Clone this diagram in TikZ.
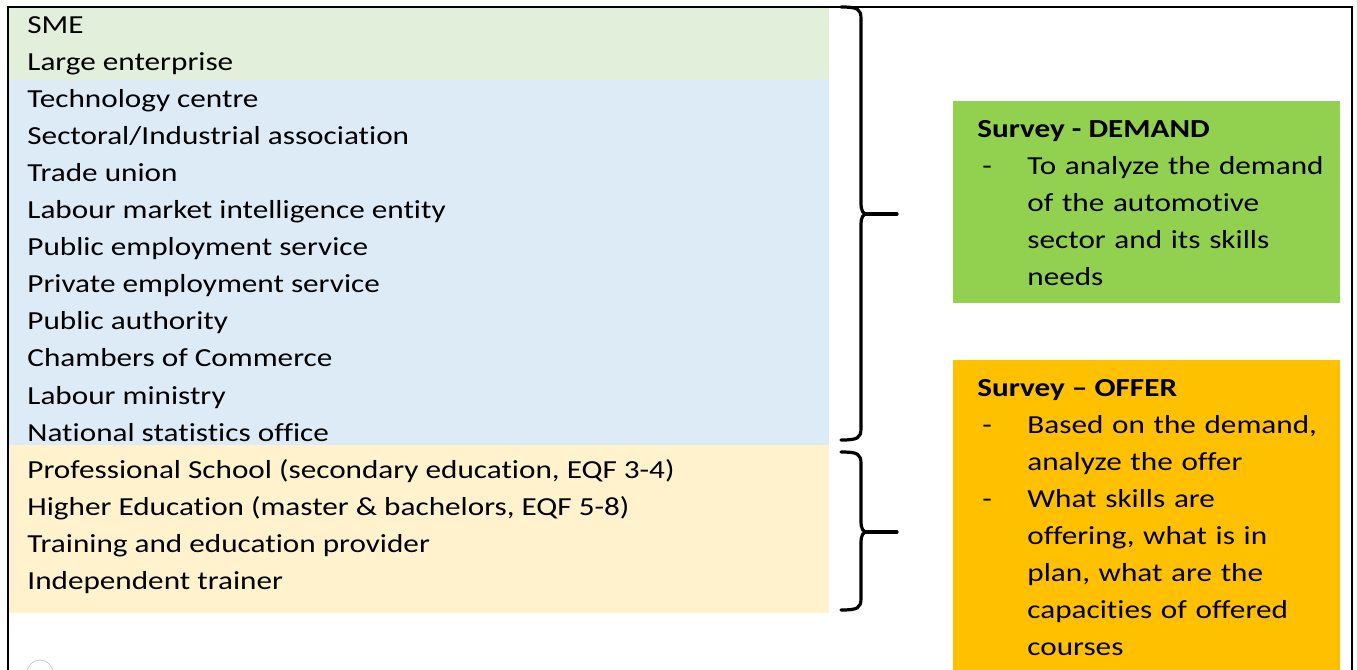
\documentclass[tikz,border=0pt]{standalone}
\usepackage{fontspec}
\setmainfont{Carlito}[FakeStretch=1.2,Ligatures={NoCommon,TeX}]
\usetikzlibrary{arrows.meta}
\definecolor{firmgreen}{HTML}{E2EFDA}
\definecolor{labourblue}{HTML}{DDEBF7}
\definecolor{schoolyellow}{HTML}{FFF2CC}
\definecolor{demandgreen}{HTML}{92D050}
\definecolor{offerorange}{HTML}{FFC000}

\begin{document}
\begin{tikzpicture}[x=0.5pt,y=-0.5pt,
    item/.style={anchor=base west,inner sep=0pt,font=\fontsize{13}{18.55}\selectfont},
    head/.style={item,font=\fontsize{13}{18.55}\selectfont\bfseries},
    bullet/.style={item,text width=170pt,align=left},
    brace/.style={line width=1.6pt,line cap=round,line join=round}]
        \useasboundingbox (0,0) rectangle (1357,670);

        % coloured bands behind the list
        \fill[firmgreen] (8,8) rectangle (829,80);
        \fill[labourblue] (8,80) rectangle (829,445);
        \fill[schoolyellow] (8,445) rectangle (829,613);

        % survey boxes
        \fill[demandgreen] (953,101) rectangle (1340,303);
        \fill[offerorange] (953,360) rectangle (1340,670);

        % frame
        \draw[line width=1pt] (8,670) -- (8,7) -- (1352,7) -- (1352,670);
        \draw[gray!40] (40,673) circle (13);

        % stakeholders
        \node[item] (sme) at (27,33) {SME};
        \node[item] (large) at (27,70.1) {Large enterprise};
        \node[item] (techc) at (27,107.2) {Technology centre};
        \node[item] (sector) at (27,144.3) {Sectoral/Industrial association};
        \node[item] (union) at (27,181.4) {Trade union};
        \node[item] (lmi) at (27,218.5) {Labour market intelligence entity};
        \node[item] (pubemp) at (27,255.6) {Public employment service};
        \node[item] (privemp) at (27,292.7) {Private employment service};
        \node[item] (pubauth) at (27,329.8) {Public authority};
        \node[item] (chamber) at (27,366.9) {Chambers of Commerce};
        \node[item] (ministry) at (27,404) {Labour ministry};
        \node[item] (stats) at (27,441.1) {National statistics office};
        \node[item] (profsch) at (27,478.2) {Professional School (secondary education, EQF 3-4)};
        \node[item] (higher) at (27,515.3) {Higher Education (master \& bachelors, EQF 5-8)};
        \node[item] (provider) at (27,552.4) {Training and education provider};
        \node[item] (trainer) at (27,589.5) {Independent trainer};

        % demand survey
        \node[head] (demhead) at (977,137) {Survey - DEMAND};
        \node[item] (demdash) at (982,174) {-};
        \node[bullet] (demtext) at (1027,174) {To analyze the demand\\of the automotive\\sector and its skills\\needs};

        % offer survey
        \node[head] (offhead) at (977,396) {Survey -- OFFER};
        \node[item] (offdasha) at (982,433) {-};
        \node[bullet] (offtexta) at (1027,433) {Based on the demand,\\analyze the offer};
        \node[item] (offdashb) at (982,507) {-};
        \node[bullet] (offtextb) at (1027,507) {What skills are\\offering, what is in\\plan, what are the\\capacities of offered\\courses};

        % braces
        \draw[brace] (841,7) .. controls (858,7) and (861,9) .. (861,19) -- (861,202)
            .. controls (861,212) and (863,214) .. (868,214)
            .. controls (863,214) and (861,216) .. (861,226) -- (861,428)
            .. controls (861,438) and (858,440) .. (841,440);
        \draw[brace] (868,214) -- (897,214);
        \draw[brace] (841,452) .. controls (858,452) and (861,454) .. (861,464) -- (861,520)
            .. controls (861,530) and (863,532) .. (868,532)
            .. controls (863,532) and (861,534) .. (861,544) -- (861,598)
            .. controls (861,608) and (858,610) .. (841,610);
        \draw[brace] (868,532) -- (897,532);
\end{tikzpicture}
\end{document}
